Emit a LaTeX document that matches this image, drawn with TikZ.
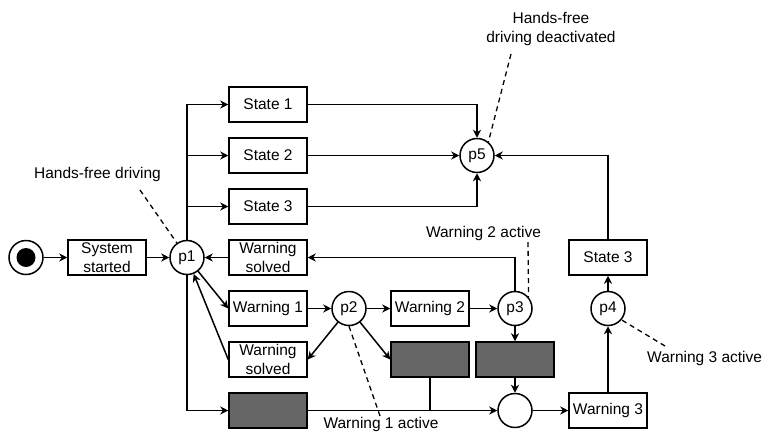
\documentclass[tikz,border=0pt]{standalone}
\usepackage{fontspec}
\setmainfont{Liberation Sans}
\usetikzlibrary{arrows.meta}
\definecolor{dgray}{RGB}{102,102,102}
\begin{document}
\begin{tikzpicture}[x=1pt,y=-1pt,
  every node/.style={font=\fontsize{15.5}{18.5}\selectfont},
  box/.style={draw, line width=1.5pt, minimum width=78pt, minimum height=35pt, inner sep=0pt, align=center},
  gbox/.style={box, fill=dgray},
  place/.style={draw, circle, line width=1.5pt, minimum size=34pt, inner sep=0pt},
  conn/.style={line width=1.5pt, -{Stealth[length=8pt,width=8pt,inset=2.5pt]}},
  plain/.style={line width=1.5pt},
  note/.style={line width=1.3pt, dash pattern=on 5pt off 4pt}
]
\path[use as bounding box] (0,0) rectangle (764,432);

% nodes
\node[place] (start) at (26,257.5) {};
\fill (start.center) circle (9.5);
\node[box] (sys) at (107,257.5) {System\\started};
\node[place] (p1) at (187,257.5) {p1};
\node[box] (s1) at (268,104.5) {State 1};
\node[box] (s2) at (268,155.5) {State 2};
\node[box] (s3) at (268,206.5) {State 3};
\node[box] (ws1) at (268,257.5) {Warning\\solved};
\node[box] (w1) at (268,308.5) {Warning 1};
\node[box] (ws2) at (268,359.5) {Warning\\solved};
\node[gbox] (g1) at (268,410.5) {};
\node[place] (p2) at (349,308.5) {p2};
\node[box] (w2) at (430,308.5) {Warning 2};
\node[place] (p3) at (515,308.5) {p3};
\node[gbox] (g2) at (430,359.5) {};
\node[gbox] (g3) at (515,359.5) {};
\node[place] (c) at (515,410.5) {};
\node[box] (w3) at (608,410.5) {Warning 3};
\node[place] (p4) at (608,308.5) {p4};
\node[box] (s3r) at (608,257.5) {State 3};
\node[place] (p5) at (477,155.5) {p5};

% connectors
\draw[conn] (start) -- (sys);
\draw[conn] (sys) -- (p1);
\draw[conn] (p1.north) |- (s1.west);
\draw[conn] (p1.north |- s2.west) -- (s2.west);
\draw[conn] (p1.north |- s3.west) -- (s3.west);
\draw[conn] (s1.east) -| (p5.north);
\draw[conn] (s2.east) -- (p5.west);
\draw[conn] (s3.east) -| (p5.south);
\draw[conn] (s3r.north) |- (p5.east);
\draw[conn] (p3.north) |- (ws1.east);
\draw[conn] (ws1.west) -- (p1.east);
\draw[conn] (p1) -- (w1.west);
\draw[conn] (w1) -- (p2);
\draw[conn] (p2) -- (w2);
\draw[conn] (w2) -- (p3);
\draw[conn] (p2) -- (ws2.east);
\draw[conn] (ws2.west) -- (p1);
\draw[conn] (p2) -- (g2.west);
\draw[conn] (p3) -- (g3);
\draw[conn] (g3) -- (c);
\draw[conn] (p1.south) |- (g1.west);
\draw[conn] (g1.east) -- (c.west);
\draw[plain] (g2.south) -- (g2.south |- c.west);
\draw[conn] (c) -- (w3);
\draw[conn] (w3) -- (p4);
\draw[conn] (p4) -- (s3r);

% annotations
\node (n1) at (97.5,174) {Hands-free driving};
\coordinate (n1e) at (140,190);
\draw[note] (n1e) -- (p1);

\node[align=center] (n5) at (551,29) {Hands-free\\driving deactivated};
\coordinate (n5e) at (511,54);
\draw[note] (n5e) -- (p5.50);

\node (n3) at (483.5,233) {Warning 2 active};
\coordinate (n3e) at (528,242);
\draw[note] (n3e) -- (p3.40);

\node[anchor=base] (n2) at (381,428) {Warning 1 active};
\coordinate (n2e) at (380,416);
\draw[note] (p2.south) -- (n2e);

\node[anchor=west, inner sep=0pt] (n4) at (647,358) {Warning 3 active};
\coordinate (n4e) at (665,346);
\draw[note] (n4e) -- (p4.-40);
\end{tikzpicture}
\end{document}
